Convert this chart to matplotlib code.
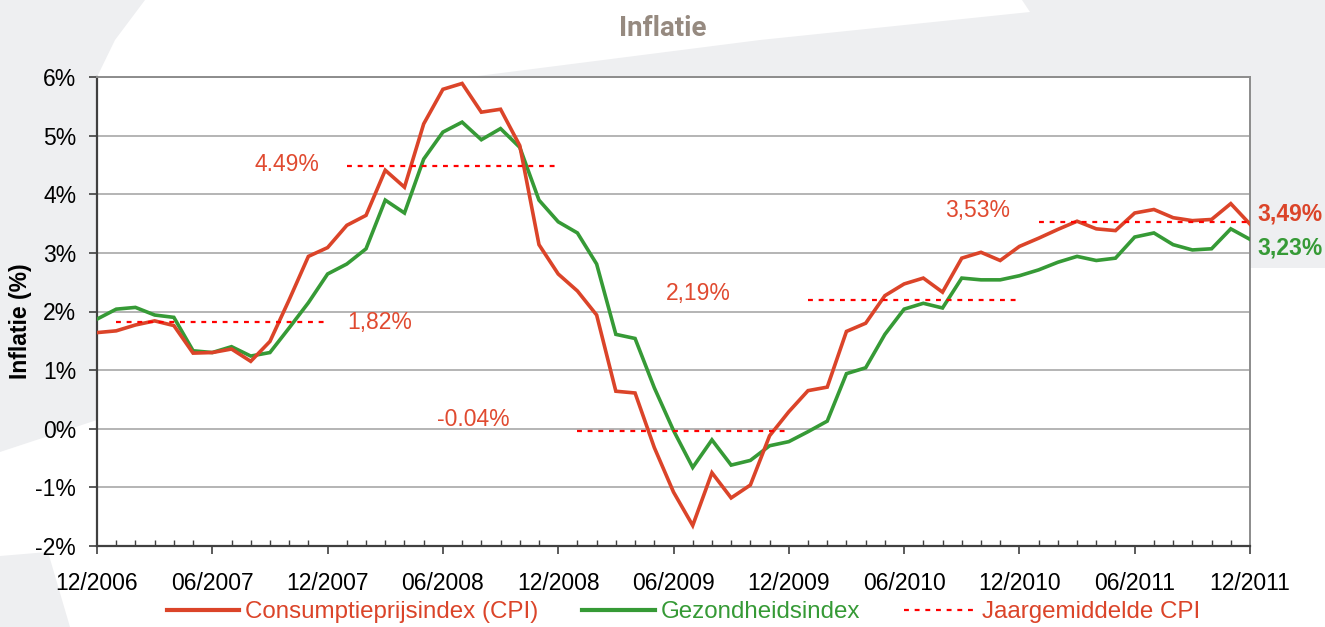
import matplotlib.pyplot as plt
import numpy as np
from matplotlib import font_manager
from matplotlib.patches import Polygon
from matplotlib.lines import Line2D

# monthly inflation, 12/2006 .. 12/2011
cpi = [1.64, 1.67, 1.77, 1.84, 1.76, 1.29, 1.30, 1.36, 1.15, 1.49, 2.20, 2.94, 3.09,
       3.47, 3.64, 4.41, 4.12, 5.20, 5.79, 5.89, 5.40, 5.45, 4.83, 3.14, 2.64,
       2.35, 1.94, 0.64, 0.61, -0.32, -1.08, -1.65, -0.75, -1.18, -0.96, -0.12, 0.29,
       0.65, 0.71, 1.66, 1.80, 2.27, 2.47, 2.57, 2.33, 2.91, 3.01, 2.87, 3.11,
       3.25, 3.40, 3.54, 3.41, 3.38, 3.68, 3.74, 3.60, 3.55, 3.57, 3.84, 3.49]
gezondheid = [1.87, 2.04, 2.07, 1.94, 1.90, 1.33, 1.30, 1.40, 1.24, 1.30, 1.72, 2.15, 2.64,
              2.81, 3.07, 3.90, 3.68, 4.60, 5.06, 5.23, 4.93, 5.12, 4.80, 3.90, 3.53,
              3.34, 2.81, 1.61, 1.54, 0.70, -0.03, -0.66, -0.19, -0.62, -0.54, -0.29, -0.22,
              -0.05, 0.13, 0.94, 1.04, 1.61, 2.04, 2.14, 2.06, 2.57, 2.54, 2.54, 2.61,
              2.71, 2.84, 2.94, 2.87, 2.91, 3.27, 3.34, 3.14, 3.05, 3.07, 3.41, 3.23]
x_labels = ['12/2006', '06/2007', '12/2007', '06/2008', '12/2008', '06/2009',
            '12/2009', '06/2010', '12/2010', '06/2011', '12/2011']

# yearly average CPI (2007..2011)
year_avg = [1.82, 4.49, -0.04, 2.19, 3.53]
year_avg_labels = ['1,82%', '4.49%', '-0.04%', '2,19%', '3,53%']
year_first = [1, 13, 25, 37, 49]
year_last = [12, 24, 36, 48, 60]

last_labels = ['3,49%', '3,23%']

red = '#db4429'
green = '#369a36'
dotred = '#ff0000'

names = {f.name for f in font_manager.fontManager.ttflist}
base = 'Liberation Sans'
narrow = 'Liberation Sans Narrow' if 'Liberation Sans Narrow' in names else 'Liberation Sans'
plt.rcParams['font.family'] = [base, 'DejaVu Sans']

W, H = 1325, 627
fig = plt.figure(figsize=(W / 100, H / 100), dpi=100)
fig.patch.set_facecolor('white')

# light grey background swooshes
bg = fig.add_axes([0, 0, 1, 1], zorder=-5)
bg.set_xlim(0, W)
bg.set_ylim(H, 0)
bg.axis('off')
bg_col = '#eeeff1'
bg.add_patch(Polygon([(0, 0), (145, 0), (115, 40), (97, 77), (97, 420), (0, 452)],
                     closed=True, color=bg_col, lw=0))
bg.add_patch(Polygon([(470, 77), (760, 40), (1030, 12), (1022, 0), (W, 0), (W, 268),
                      (1250, 268), (1250, 77)], closed=True, color=bg_col, lw=0))
bg.add_patch(Polygon([(0, 556), (48, 552), (70, H), (0, H)], closed=True, color=bg_col, lw=0))

ax = fig.add_axes([97 / W, 1 - 546 / H, (1250 - 97) / W, (546 - 77) / H], zorder=2)
ax.set_facecolor('white')

months = np.arange(len(cpi))
ax.plot(months, cpi, color=red, lw=2.6, zorder=4, solid_joinstyle='miter')
ax.plot(months, gezondheid, color=green, lw=2.6, zorder=3, solid_joinstyle='miter')

for avg, a, b in zip(year_avg, year_first, year_last):
    ax.plot([a, b], [avg, avg], color=dotred, lw=1.6, linestyle=(0, (2.2, 2.6)), zorder=5)

# labels for yearly averages
label_pos = [(14.7, 1.82), (9.9, 4.51), (19.6, 0.15), (31.3, 2.30), (45.8, 3.72)]
for txt, (lx, ly) in zip(year_avg_labels, label_pos):
    ax.text(lx, ly, txt, color='#e04a30', fontsize=16.5, ha='center', va='center', zorder=6)

ax.annotate(last_labels[0], xy=(months[-1], cpi[-1]), xytext=(5, 7), textcoords='offset points',
            color=red, fontsize=16.5, fontweight='bold', ha='left', va='center',
            annotation_clip=False)
ax.annotate(last_labels[1], xy=(months[-1], gezondheid[-1]), xytext=(5, -6), textcoords='offset points',
            color=green, fontsize=16.5, fontweight='bold', ha='left', va='center',
            annotation_clip=False)

ax.set_xlim(0, 60)
ax.set_ylim(-2, 6)
yt = np.arange(-2, 7)
ax.set_yticks(yt)
ax.set_yticklabels([f'{v}%' for v in yt], fontsize=16.5)
ax.set_xticks(np.arange(0, 61, 6))
ax.set_xticklabels(x_labels, fontsize=16.5)
ax.set_xticks(np.arange(0, 61, 1), minor=True)
ax.tick_params(axis='y', direction='out', length=6, width=1.2, pad=9, color='#404040')
ax.tick_params(axis='x', which='major', direction='out', length=6, width=1.2, pad=13, color='#404040')
ax.tick_params(axis='x', which='minor', direction='in', length=4, width=1.0, color='#404040')

ax.grid(axis='y', color='#a8a8a8', lw=1.2, zorder=1)
ax.set_axisbelow(True)
for s in ['left', 'bottom']:
    ax.spines[s].set_color('#404040')
    ax.spines[s].set_linewidth(1.6)
for s in ['top', 'right']:
    ax.spines[s].set_color('#8c8c8c')
    ax.spines[s].set_linewidth(1.4)

ax.set_ylabel('Inflatie (%)', fontsize=16.5, fontweight='bold')
ax.yaxis.set_label_coords(-0.056, 0.48)

fig.text(663 / W, 1 - 28 / H, 'Inflatie', fontsize=20, fontweight='bold', color='#968a80',
         ha='center', va='center', family=['Roboto', 'DejaVu Sans'])

handles = [Line2D([], [], color=red, lw=3),
           Line2D([], [], color=green, lw=3),
           Line2D([], [], color=dotred, lw=1.6, linestyle=(0, (2.2, 2.6)))]
leg_size = 19 if narrow != base else 17.4
leg = fig.legend(handles, ['Consumptieprijsindex (CPI)', 'Gezondheidsindex', 'Jaargemiddelde CPI'],
                 loc='center', bbox_to_anchor=(0.516, 1 - 612 / H), ncol=3, frameon=False,
                 handlelength=3.0, handletextpad=0.25, columnspacing=1.8,
                 prop={'family': narrow, 'size': leg_size})
for t, c in zip(leg.get_texts(), [red, green, red]):
    t.set_color(c)

fig.savefig('out.png', dpi=100)
